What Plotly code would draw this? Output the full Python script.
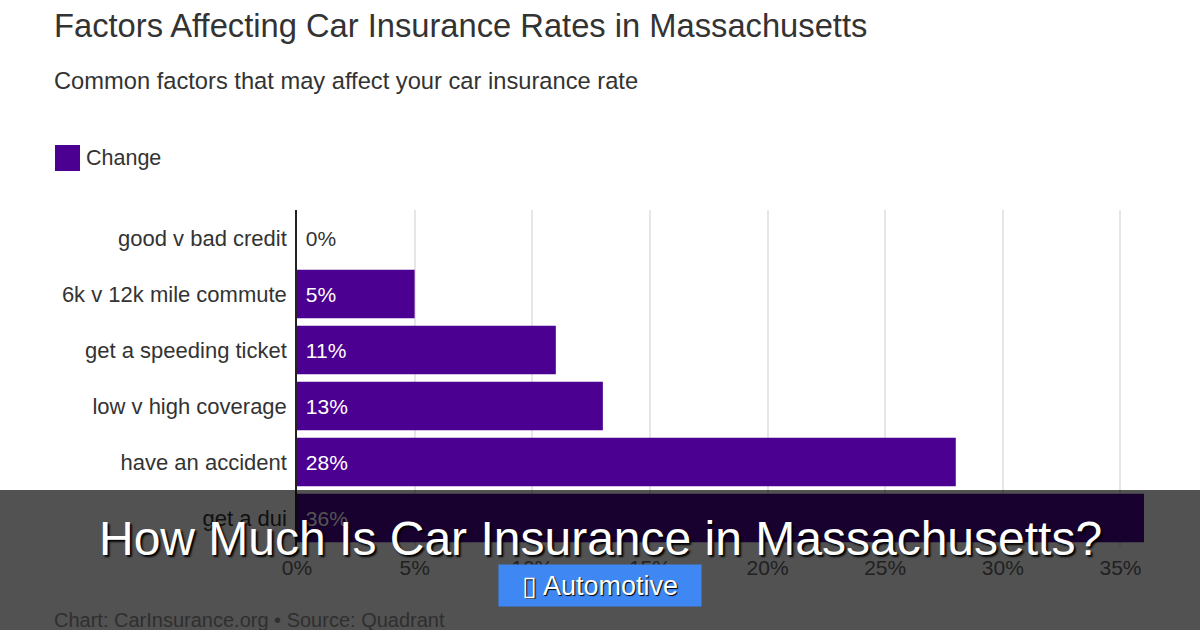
import plotly.graph_objects as go

categories = ["good v bad credit", "6k v 12k mile commute", "get a speeding ticket",
              "low v high coverage", "have an accident", "get a dui"]
values = [0, 5, 11, 13, 28, 36]
value_labels = ["0%", "5%", "11%", "13%", "28%", "36%"]
series_name = "Change"
x_ticks = [0, 5, 10, 15, 20, 25, 30, 35]

W, H = 1200, 630
L, R, T, B = 297, 56, 210, 84
PW, PH = W - L - R, H - T - B
FONT = "Liberation Sans, Arial, sans-serif"


def px(x):
    return (x - L) / PW


def py(y):
    return (H - B - y) / PH


positions = ["outside" if v == 0 else "inside" for v in values]

fig = go.Figure()
fig.add_trace(go.Bar(
    y=categories, x=values, orientation="h", name=series_name,
    marker=dict(color="#4b0092", line=dict(width=0)),
    text=value_labels, texttemplate="\u00a0%{text}",
    textposition=positions, insidetextanchor="start",
    insidetextfont=dict(color="white", size=21, family=FONT),
    outsidetextfont=dict(color="#333333", size=21, family=FONT),
    textangle=0, cliponaxis=False, showlegend=False,
))

fig.update_layout(
    width=W, height=H, margin=dict(l=L, r=R, t=T, b=B, autoexpand=False),
    paper_bgcolor="white", plot_bgcolor="white",
    font=dict(family=FONT, color="#333333"),
    bargap=0.13,
    xaxis=dict(range=[0, 36], tickvals=x_ticks, ticktext=[f"{t}%" for t in x_ticks],
               showgrid=True, gridcolor="#e6e6e6", gridwidth=1.5, zeroline=False,
               showline=False, ticks="outside", ticklen=3, tickcolor="rgba(0,0,0,0)",
               tickfont=dict(size=21, color="#666666"),
               automargin=False, fixedrange=True),
    yaxis=dict(autorange="reversed", showgrid=False, showline=True, linecolor="#222222",
               linewidth=1.5, ticks="outside", ticklen=4, tickcolor="rgba(0,0,0,0)",
               tickfont=dict(size=22, color="#333333"), automargin=False, fixedrange=True),
)

# Legend (custom, larger swatch)
fig.add_shape(type="rect", xref="paper", yref="paper",
              x0=px(55), x1=px(80), y0=py(171), y1=py(145),
              fillcolor="#4b0092", line=dict(width=0))
fig.add_annotation(xref="paper", yref="paper", x=px(84), y=py(158), text=series_name,
                   showarrow=False, xanchor="left", yanchor="middle",
                   font=dict(size=21.5, color="#333333", family=FONT))

# Titles
fig.add_annotation(xref="paper", yref="paper", x=px(52), y=py(25),
                   text="Factors Affecting Car Insurance Rates in Massachusetts",
                   showarrow=False, xanchor="left", yanchor="middle",
                   font=dict(size=32.7, color="#333333", family=FONT))
fig.add_annotation(xref="paper", yref="paper", x=px(52), y=py(81),
                   text="Common factors that may affect your car insurance rate",
                   showarrow=False, xanchor="left", yanchor="middle",
                   font=dict(size=23.7, color="#333333", family=FONT))

# Dark overlay band
fig.add_shape(type="rect", xref="paper", yref="paper", layer="above",
              x0=px(0), x1=px(W), y0=py(H), y1=py(490),
              fillcolor="rgba(0,0,0,0.68)", line=dict(width=0))

# Source note (under overlay, so dimmed colour)
fig.add_annotation(xref="paper", yref="paper", x=px(52), y=py(620),
                   text="Chart: CarInsurance.org • Source: Quadrant",
                   showarrow=False, xanchor="left", yanchor="middle",
                   font=dict(size=20, color="#2f2f2f", family=FONT))

# Overlay headline
fig.add_annotation(xref="paper", yref="paper", x=px(600), y=py(538),
                   text="How Much Is Car Insurance in Massachusetts?",
                   showarrow=False, xanchor="center", yanchor="middle",
                   font=dict(size=48, color="white", family=FONT,
                             shadow="2px 2px 2px #000000"))

# Category badge
fig.add_annotation(xref="paper", yref="paper", x=px(600), y=py(585.5),
                   text="▯ Automotive", showarrow=False, xanchor="center", yanchor="middle",
                   bgcolor="#3f87f2", borderpad=7, width=188, height=27,
                   font=dict(size=27, color="white", family=FONT,
                             shadow="1px 1px 1px #000000"))

fig.write_html("out.html")
